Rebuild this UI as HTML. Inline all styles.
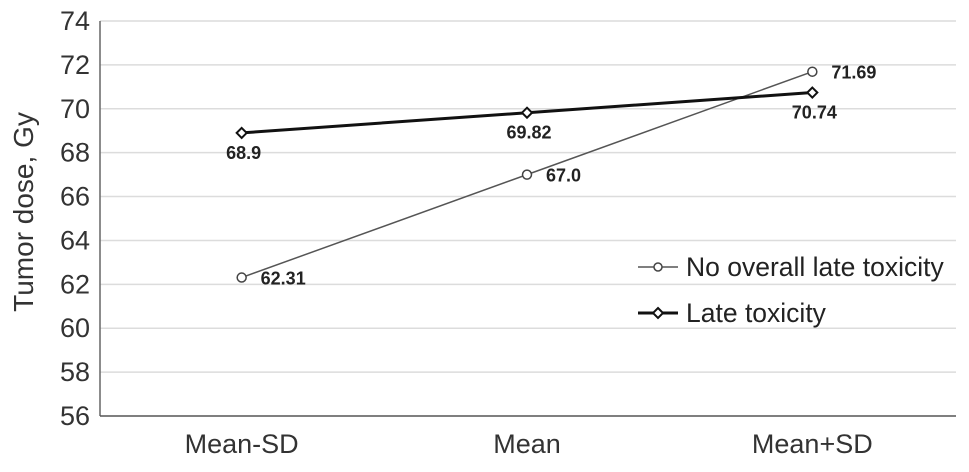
<!DOCTYPE html>
<html><head><meta charset="utf-8"><style>
html,body{margin:0;padding:0;background:#fff;}
svg{display:block;font-family:"Liberation Sans",Arial,sans-serif;}
</style></head><body>
<svg id="chart" width="969" height="472">
<g id="grid"></g><g id="axes"></g><g id="series"></g><g id="legend"></g>
</svg>
<script>
const categories = ["Mean-SD","Mean","Mean+SD"];
const noToxValues = [62.31, 67.0, 71.69];
const noToxLabels = ["62.31","67.0","71.69"];
const lateToxValues = [68.9, 69.82, 70.74];
const lateToxLabels = ["68.9","69.82","70.74"];
const yTicks = [56,58,60,62,64,66,68,70,72,74];

const NS="http://www.w3.org/2000/svg";
const L=100,R=956,T=21,B=416,yMin=56,yMax=74;
const y=v=>B-(v-yMin)/(yMax-yMin)*(B-T);
const band=(R-L)/categories.length;
const x=i=>L+band*(i+0.5)-1;
function mk(tag,attrs,parent,text){const e=document.createElementNS(NS,tag);for(const k in attrs)e.setAttribute(k,attrs[k]);if(text!==undefined)e.textContent=text;parent.appendChild(e);return e;}
const grid=document.getElementById('grid'),axes=document.getElementById('axes'),series=document.getElementById('series'),legend=document.getElementById('legend');

yTicks.forEach(t=>{
  if(t>yMin){const g=mk('line',{x1:L,x2:R,y1:y(t),y2:y(t),stroke:'#dcdcdc','stroke-width':1.5},grid);
  
  }
  const tl=mk('text',{x:90,y:y(t)+9,'text-anchor':'end','font-size':27,fill:'#333'},axes,String(t));
  
  
});
const ya=mk('line',{x1:L,x2:L,y1:T,y2:B,stroke:'#666','stroke-width':1.5},axes);


const xa=mk('line',{x1:L,x2:R,y1:B,y2:B,stroke:'#555','stroke-width':1.5},axes);


categories.forEach((c,i)=>{
  const t=mk('text',{x:x(i),y:453,'text-anchor':'middle','font-size':27,fill:'#333'},axes,c);
  
  
});
const yt=mk('text',{transform:'translate(33,212) rotate(-90)','text-anchor':'middle','font-size':28,fill:'#333'},axes,'Tumor dose, Gy');



const p1=mk('polyline',{points:noToxValues.map((v,i)=>x(i)+','+y(v)).join(' '),fill:'none',stroke:'#555','stroke-width':1.5},series);


const p2=mk('polyline',{points:lateToxValues.map((v,i)=>x(i)+','+y(v)).join(' '),fill:'none',stroke:'#111','stroke-width':3},series);


noToxValues.forEach((v,i)=>{
  const c=mk('circle',{cx:x(i),cy:y(v),r:4.5,fill:'#fff',stroke:'#444','stroke-width':1.5},series);
  
  
  const t=mk('text',{x:x(i)+19,y:y(v)+7,'font-size':18,'font-weight':'bold',fill:'#222'},series,noToxLabels[i]);
  
  
});
lateToxValues.forEach((v,i)=>{
  const X=x(i),Y=y(v);
  const d=mk('polygon',{points:`${X},${Y-5} ${X+5},${Y} ${X},${Y+5} ${X-5},${Y}`,fill:'#fff',stroke:'#111','stroke-width':2},series);
  
  
  const t=mk('text',{x:X+2,y:Y+26,'text-anchor':'middle','font-size':18,'font-weight':'bold',fill:'#222'},series,lateToxLabels[i]);
  
  
});

const l1=mk('line',{x1:638,x2:678,y1:267,y2:267,stroke:'#555','stroke-width':1.5},legend);


const lc=mk('circle',{cx:658,cy:267,r:4,fill:'#fff',stroke:'#444','stroke-width':1.5},legend);


const lt1=mk('text',{x:686,y:276,'font-size':26.5,fill:'#222'},legend,'No overall late toxicity');


const l2=mk('line',{x1:638,x2:678,y1:313,y2:313,stroke:'#111','stroke-width':3},legend);


const ld=mk('polygon',{points:'658,308 663,313 658,318 653,313',fill:'#fff',stroke:'#111','stroke-width':2},legend);


const lt2=mk('text',{x:686,y:322,'font-size':26.5,fill:'#222'},legend,'Late toxicity');


</script>
</body></html>
